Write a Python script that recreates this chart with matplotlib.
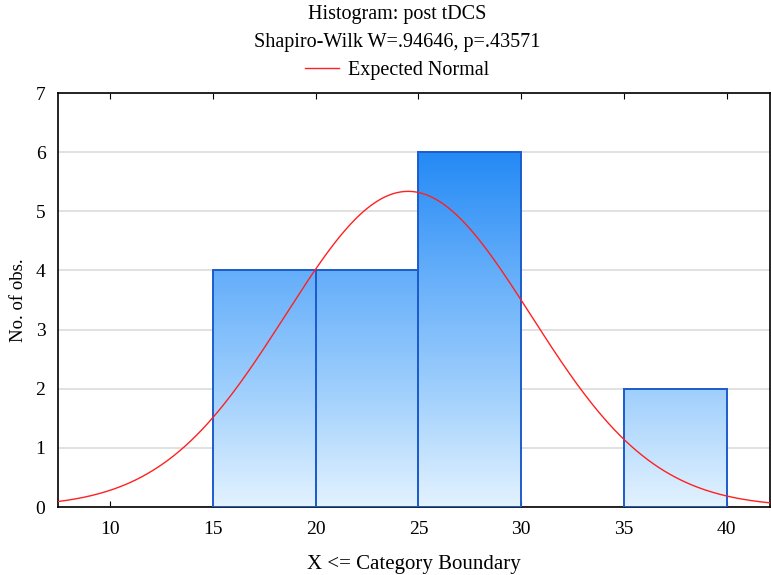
import numpy as np
import matplotlib
matplotlib.use("Agg")
import matplotlib.pyplot as plt
from matplotlib.colors import LinearSegmentedColormap
from matplotlib.patches import Rectangle

# histogram data
bin_edges = [10, 15, 20, 25, 30, 35, 40]
counts = [0, 4, 4, 6, 0, 2]

# expected normal parameters
mean_val = 24.5
sd_val = 5.98
n_obs = sum(counts)
bin_width = 5

title_lines = ["Histogram: post tDCS", "Shapiro-Wilk W=.94646, p=.43571"]
x_ticks = [10, 15, 20, 25, 30, 35, 40]
y_ticks = [0, 1, 2, 3, 4, 5, 6, 7]

plt.rcParams['font.family'] = ['Liberation Serif', 'DejaVu Serif']

fig = plt.figure(figsize=(7.71, 5.75), dpi=100)
ax = fig.add_axes([58 / 771, 68 / 575, 712 / 771, 414 / 575])

cmap = LinearSegmentedColormap.from_list(
    "bars", [(0.89, 0.95, 1.0), (0.62, 0.81, 0.99), (0.39, 0.68, 0.98), (0.14, 0.54, 0.96)])
grad = np.linspace(0, 1, 256).reshape(-1, 1)

for i, c in enumerate(counts):
    if c == 0:
        continue
    x0, x1 = bin_edges[i], bin_edges[i + 1]
    im = ax.imshow(grad, cmap=cmap, origin='lower', aspect='auto',
                   extent=(x0, x1, 0, 6), zorder=2, interpolation='bilinear')
    rect = Rectangle((x0, 0), x1 - x0, c, facecolor='none',
                     edgecolor='#1c5ccc', linewidth=1.4, zorder=3)
    ax.add_patch(rect)
    im.set_clip_path(rect)

# expected normal curve
xs = np.linspace(7.0, 43.0, 400)
ys = n_obs * bin_width / (sd_val * np.sqrt(2 * np.pi)) * np.exp(-(xs - mean_val) ** 2 / (2 * sd_val ** 2))
line, = ax.plot(xs, ys, color='#ff2020', linewidth=1.0, zorder=4)

ax.set_xlim(7.47, 42.1)
ax.set_ylim(0, 7)
ax.set_xticks(x_ticks)
ax.set_yticks(y_ticks)
ax.yaxis.grid(True, color='#dcdcdc', linewidth=1.2, zorder=0)
ax.set_axisbelow(True)
ax.tick_params(axis='x', direction='in', top=True, length=4, labelsize=14, pad=10)
ax.tick_params(axis='y', length=0, labelsize=14, pad=9)
for s in ax.spines.values():
    s.set_linewidth(1.2)
    s.set_color('black')

ax.set_xlabel("X <= Category Boundary", fontsize=15, labelpad=12)
ax.set_ylabel("No. of obs.", fontsize=13.5, labelpad=6)

cx = 397 / 771
fig.text(cx, 1 - 15 / 575, title_lines[0], ha='center', va='center', fontsize=14.5)
fig.text(cx, 1 - 43 / 575, title_lines[1], ha='center', va='center', fontsize=14.5)
fig.legend([line], ["Expected Normal"], loc='center', bbox_to_anchor=(cx, 1 - 70 / 575),
           frameon=False, fontsize=14.5, handlelength=1.7, handletextpad=0.4)

fig.savefig("out.png", dpi=100)
